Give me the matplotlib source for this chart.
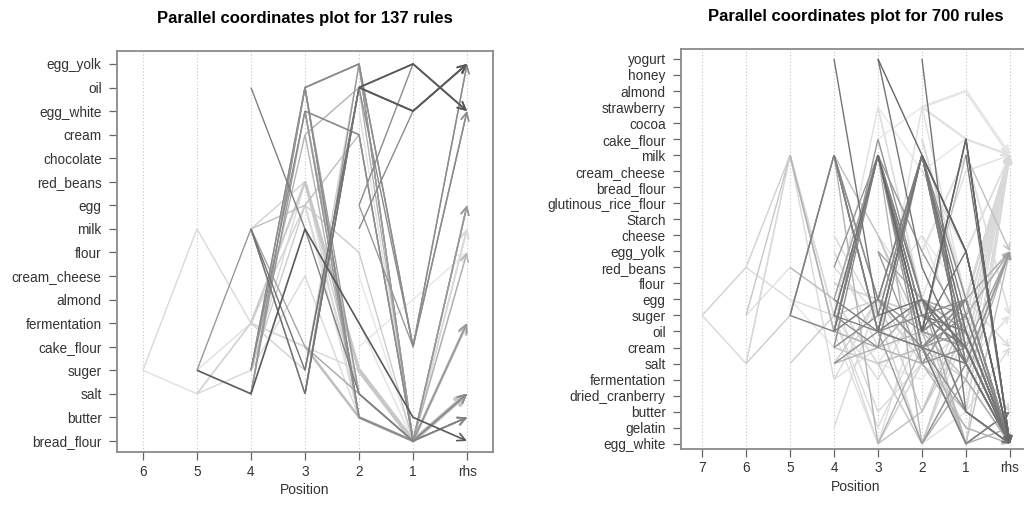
import matplotlib
matplotlib.use("Agg")
import matplotlib.pyplot as plt

plt.rcParams["font.family"] = ["Liberation Sans", "DejaVu Sans"]

# ---------------- left panel: 137 rules ----------------
items_137 = ["bread_flour", "butter", "salt", "suger", "cake_flour", "fermentation",
             "almond", "cream_cheese", "flour", "milk", "egg", "red_beans",
             "chocolate", "cream", "egg_white", "oil", "egg_yolk"]
pos_labels_137 = ["6", "5", "4", "3", "2", "1", "rhs"]

# each rule: lhs items from the highest position down to position 1, then the rhs item
rules_137 = [
    ["suger", "milk", "fermentation", "cake_flour", "butter", "bread_flour", "salt"],
    ["suger", "salt", "fermentation", "egg", "butter", "bread_flour", "milk"],
    ["suger", "salt", "milk", "fermentation", "butter", "bread_flour"],
    ["suger", "milk", "salt", "oil", "egg_white", "egg_yolk"],
    ["salt", "fermentation", "suger", "egg_yolk", "cake_flour", "egg_white"],
    ["suger", "fermentation", "cake_flour", "butter", "bread_flour", "egg"],
    ["salt", "suger", "cream_cheese", "butter", "bread_flour", "fermentation"],
    ["oil", "milk", "salt", "bread_flour", "butter"],
    ["suger", "oil", "egg_yolk", "cake_flour", "egg_white"],
    ["suger", "egg_white", "cream", "bread_flour", "salt"],
    ["salt", "oil", "butter", "bread_flour", "egg"],
    ["milk", "suger", "oil", "egg_yolk", "egg_white"],
    ["milk", "salt", "oil", "egg_white", "egg_yolk"],
    ["milk", "cake_flour", "salt", "bread_flour", "butter"],
    ["suger", "egg", "flour", "bread_flour", "fermentation"],
    ["fermentation", "red_beans", "suger", "bread_flour", "salt"],
    ["fermentation", "cake_flour", "suger", "bread_flour", "milk"],
    ["suger", "cream", "butter", "bread_flour", "flour"],
    ["salt", "egg_white", "butter", "bread_flour", "egg"],
    ["oil", "egg_yolk", "cake_flour", "egg_white"],
    ["oil", "egg_yolk", "bread_flour", "salt"],
    ["egg_white", "cream", "bread_flour", "fermentation"],
    ["oil", "butter", "bread_flour", "salt"],
    ["suger", "oil", "cake_flour", "egg_yolk"],
    ["salt", "egg_yolk", "bread_flour", "butter"],
    ["red_beans", "suger", "bread_flour", "salt"],
    ["egg", "salt", "bread_flour", "milk"],
    ["cake_flour", "butter", "bread_flour", "salt"],
    ["cream", "oil", "bread_flour", "butter"],
    ["egg", "egg_yolk", "egg_white"],
    ["milk", "egg_white", "egg_yolk"],
    ["oil", "egg_yolk", "egg_white"],
    ["oil", "egg_white", "egg_yolk"],
    ["suger", "bread_flour", "salt"],
    ["butter", "bread_flour", "fermentation"],
    ["salt", "bread_flour", "butter"],
    ["fermentation", "bread_flour", "egg"],
    ["egg_white", "bread_flour", "milk"],
    ["cake_flour", "almond", "flour"],
    ["cream_cheese", "bread_flour", "egg"],
    ["egg", "cake_flour", "egg_yolk"],
    ["bread_flour", "milk"],
    ["suger", "oil", "butter", "bread_flour", "fermentation"],
    ["salt", "oil", "egg_yolk", "bread_flour", "butter"],
    ["milk", "egg", "cream", "bread_flour", "salt"],
    ["fermentation", "egg", "salt", "bread_flour", "butter"],
    ["suger", "red_beans", "butter", "bread_flour", "egg"],
    ["oil", "salt", "bread_flour", "butter"],
    ["egg_white", "butter", "bread_flour", "salt"],
    ["salt", "oil", "egg_white", "egg_yolk"],
    ["milk", "red_beans", "salt", "bread_flour", "flour"],
    ["egg_white", "salt", "bread_flour", "egg"],
]
shade_137 = [0.85, 0.88, 0.35, 0.6, 0.82, 0.88, 0.85, 0.5, 0.55, 0.55,
             0.6, 0.45, 0.45, 0.65, 0.8, 0.8, 0.85, 0.7, 0.6, 0.6,
             0.6, 0.6, 0.55, 0.55, 0.6, 0.78, 0.88, 0.75, 0.7, 0.55,
             0.55, 0.35, 0.35, 0.78, 0.78, 0.85, 0.9, 0.88, 0.9, 0.9,
             0.6, 0.9, 0.6, 0.6, 0.75, 0.85, 0.85, 0.6, 0.6, 0.5,
             0.82, 0.7]
width_137 = [1.0, 1.0, 1.2, 1.0, 1.0, 1.0, 1.0, 1.0, 1.0, 1.0,
             1.0, 1.0, 1.0, 1.0, 1.0, 1.6, 1.0, 1.0, 1.0, 1.0,
             1.0, 1.0, 1.0, 1.0, 1.0, 2.2, 1.0, 1.8, 1.0, 1.0,
             1.0, 1.3, 1.3, 3.0, 2.0, 1.4, 1.2, 1.0, 1.0, 1.0,
             1.0, 1.2, 1.0, 1.0, 1.0, 1.0, 1.0, 1.0, 1.0, 1.0,
             1.0, 1.0]

# ---------------- right panel: 700 rules ----------------
items_700 = ["egg_white", "gelatin", "butter", "dried_cranberry", "fermentation", "salt",
             "cream", "oil", "suger", "egg", "flour", "red_beans", "egg_yolk", "cheese",
             "Starch", "glutinous_rice_flour", "bread_flour", "cream_cheese", "milk",
             "cake_flour", "cocoa", "strawberry", "almond", "honey", "yogurt"]
pos_labels_700 = ["7", "6", "5", "4", "3", "2", "1", "rhs"]

rules_700 = [
    ["suger", "red_beans", "milk", "oil", "egg", "salt", "butter", "egg_white"],
    ["suger", "salt", "milk", "fermentation", "egg", "cream", "gelatin", "egg_white"],
    ["suger", "milk", "oil", "cream", "salt", "butter", "egg_white"],
    ["red_beans", "egg", "suger", "gelatin", "oil", "fermentation", "egg_white"],
    ["salt", "suger", "milk", "oil", "cream", "fermentation", "egg_white"],
    ["salt", "milk", "suger", "fermentation", "egg", "butter", "cream"],
    ["suger", "red_beans", "egg", "salt", "egg_white", "butter", "milk"],
    ["milk", "oil", "cream", "salt", "gelatin", "egg_white"],
    ["suger", "milk", "oil", "egg", "salt", "egg_white"],
    ["suger", "oil", "milk", "cream", "egg_white", "butter"],
    ["salt", "suger", "egg", "butter", "oil", "egg_white"],
    ["red_beans", "egg", "milk", "oil", "cake_flour", "egg_white"],
    ["milk", "suger", "egg_white", "salt", "egg", "cream"],
    ["suger", "milk", "egg", "cream", "butter", "egg_white"],
    ["egg", "cream", "salt", "fermentation", "suger", "milk"],
    ["yogurt", "suger", "egg", "cream", "egg_white"],
    ["milk", "oil", "cream", "salt", "egg_white"],
    ["oil", "milk", "egg", "butter", "egg_white"],
    ["suger", "milk", "oil", "egg_yolk", "egg_white"],
    ["gelatin", "egg", "salt", "butter", "milk"],
    ["fermentation", "cream", "egg", "suger", "milk"],
    ["egg_yolk", "cream", "egg", "salt", "milk"],
    ["milk", "egg_white", "cream", "egg", "egg_yolk"],
    ["red_beans", "suger", "egg_white", "oil", "milk"],
    ["oil", "cake_flour", "egg", "salt", "egg_white"],
    ["suger", "strawberry", "egg", "cream", "milk"],
    ["milk", "cheese", "oil", "fermentation", "egg_white"],
    ["oil", "milk", "suger", "cream", "egg_white"],
    ["milk", "oil", "egg_white", "salt", "egg_yolk"],
    ["cream", "suger", "milk", "egg_yolk", "egg_white"],
    ["salt", "egg", "suger", "egg_white", "butter"],
    ["yogurt", "milk", "egg_yolk", "egg_white"],
    ["yogurt", "red_beans", "salt", "egg_white"],
    ["milk", "oil", "cake_flour", "egg_white"],
    ["oil", "milk", "egg_yolk", "egg_white"],
    ["strawberry", "cream_cheese", "cake_flour", "milk"],
    ["strawberry", "egg", "suger", "milk"],
    ["egg_white", "salt", "oil", "milk"],
    ["cheese", "egg", "butter", "milk"],
    ["milk", "egg_white", "salt", "egg_yolk"],
    ["cake_flour", "strawberry", "almond", "milk"],
    ["egg", "cheese", "cream", "milk"],
    ["milk", "suger", "oil", "egg_white"],
    ["oil", "cream", "egg", "egg_white"],
    ["salt", "egg", "cream_cheese", "milk"],
    ["egg_white", "butter", "suger", "egg_yolk"],
    ["cream", "oil", "egg_white", "butter"],
    ["egg_yolk", "salt", "cream", "egg_white"],
    ["suger", "egg_white", "fermentation", "milk"],
    ["milk", "cream", "egg_white", "gelatin"],
    ["yogurt", "butter", "egg_white"],
    ["milk", "egg_yolk", "egg_white"],
    ["oil", "cake_flour", "egg_white"],
    ["strawberry", "almond", "milk"],
    ["strawberry", "cake_flour", "milk"],
    ["egg_white", "suger", "milk"],
    ["egg_white", "fermentation", "egg_yolk"],
    ["milk", "salt", "egg_yolk"],
    ["cream", "egg", "milk"],
    ["milk", "cream", "egg_white"],
    ["cream_cheese", "egg_yolk", "milk"],
    ["egg", "egg_white", "butter"],
    ["suger", "cream", "egg_white"],
    ["salt", "egg", "egg_yolk"],
    ["egg_yolk", "milk", "suger"],
    ["cake_flour", "egg", "milk"],
    ["milk", "oil", "egg_white"],
    ["almond", "milk"],
    ["cake_flour", "egg_white"],
    ["suger", "egg_yolk"],
    ["egg_yolk", "egg_white"],
    ["egg", "milk"],
    ["fermentation", "egg_white"],
    ["cream", "butter"],
    ["salt", "suger"],
    ["oil", "milk", "cream", "salt", "egg_white"],
    ["milk", "oil", "suger", "egg", "egg_white"],
    ["suger", "milk", "egg_yolk", "oil", "egg_white"],
    ["egg", "milk", "oil", "cream", "egg_yolk"],
    ["suger", "oil", "milk", "salt", "egg_white"],
    ["salt", "oil", "milk", "egg", "egg_white"],
    ["red_beans", "milk", "oil", "cream", "egg_white"],
    ["cream", "milk", "suger", "oil", "egg_white"],
    ["milk", "egg", "cream", "oil", "egg_white"],
    ["oil", "egg", "milk", "cream", "egg_white"],
    ["egg", "oil", "milk", "suger", "egg_white"],
    ["suger", "cream", "milk", "oil", "egg_white"],
    ["cheese", "suger", "cream", "egg", "milk"],
    ["egg", "salt", "cream", "suger", "milk"],
    ["flour", "egg", "suger", "cream", "egg_yolk"],
    ["salt", "cream", "egg", "butter", "egg_white"],
    ["egg", "butter", "salt", "cream", "milk"],
    ["cream", "salt", "egg_white", "suger", "egg_yolk"],
    ["oil", "egg_white", "egg", "cream", "milk"],
    ["milk", "egg", "oil", "egg_white"],
    ["egg", "milk", "cream", "egg_white"],
    ["suger", "milk", "salt", "egg_white"],
    ["cream", "strawberry", "egg", "milk"],
    ["cake_flour", "egg", "butter", "milk"],
    ["suger", "egg", "egg_white", "milk"],
    ["salt", "cream", "egg_white", "egg_yolk"],
    ["cheese", "cream", "suger", "milk"],
    ["oil", "egg", "salt", "egg_yolk"],
    ["egg_yolk", "egg", "suger", "egg_white"],
    ["egg", "oil", "cream", "egg_white"],
    ["milk", "salt", "egg", "egg_white"],
    ["oil", "milk", "egg_yolk"],
    ["egg", "salt", "egg_white"],
    ["cream", "suger", "egg_white"],
    ["salt", "cream", "milk"],
    ["suger", "egg", "milk"],
    ["egg", "cream", "egg_white"],
    ["butter", "egg", "milk"],
    ["oil", "egg", "egg_white"],
    ["cheese", "egg", "milk"],
    ["egg_white", "milk"],
    ["oil", "egg_white"],
    ["butter", "egg_white"],
    ["milk", "egg_white"],
    ["cream", "egg_white"],
]
shade_700 = [0.82, 0.85, 0.78, 0.86, 0.8, 0.85, 0.88, 0.7, 0.5, 0.5,
             0.8, 0.75, 0.85, 0.55, 0.9, 0.45, 0.5, 0.5, 0.45, 0.85,
             0.88, 0.85, 0.7, 0.85, 0.6, 0.88, 0.75, 0.5, 0.6, 0.55,
             0.8, 0.4, 0.45, 0.4, 0.45, 0.9, 0.88, 0.85, 0.88, 0.7,
             0.9, 0.88, 0.5, 0.55, 0.88, 0.75, 0.7, 0.6, 0.85, 0.65,
             0.45, 0.4, 0.4, 0.9, 0.88, 0.85, 0.7, 0.65, 0.85, 0.55,
             0.88, 0.7, 0.55, 0.75, 0.88, 0.85, 0.45, 0.9, 0.45, 0.7,
             0.45, 0.88, 0.7, 0.85, 0.88,
             0.55, 0.55, 0.6, 0.65, 0.5, 0.55, 0.6, 0.55, 0.6, 0.5,
             0.5, 0.55, 0.85, 0.85, 0.8, 0.7, 0.85, 0.8, 0.88, 0.6,
             0.5, 0.55, 0.88, 0.88, 0.85, 0.75, 0.88, 0.7, 0.65, 0.6,
             0.6, 0.75, 0.6, 0.55, 0.88, 0.88, 0.55, 0.88, 0.55, 0.9,
             0.88, 0.55, 0.6, 0.45, 0.55]
# rules drawn heavier than the default line width (by rule index)
thick_700 = {53: 1.8, 54: 1.5, 55: 1.3, 58: 1.6, 60: 1.4, 64: 1.3, 65: 1.4,
             67: 2.0, 71: 1.8, 73: 1.2, 74: 1.2, 110: 1.6, 111: 1.5, 113: 1.4,
             116: 1.5}


def draw_panel(ax, items, labels, rules, shades, widths, title, head):
    npos = len(labels) - 1
    ypos = {name: i for i, name in enumerate(items)}
    for x in range(len(labels)):
        ax.axvline(x, color="#c4c4c4", lw=0.8, ls=(0, (1, 2)), zorder=0)
    order = sorted(range(len(rules)), key=lambda k: -shades[k])
    for z, k in enumerate(order):
        rule, g, w = rules[k], shades[k], widths[k]
        n_lhs = len(rule) - 1
        xs = [npos - (n_lhs - j) for j in range(n_lhs)] + [npos]
        ys = [ypos[name] for name in rule]
        col = (g, g, g)
        ax.plot(xs[:-1], ys[:-1], color=col, lw=w, zorder=2 + z * 0.01,
                solid_joinstyle="miter", solid_capstyle="butt")
        ax.annotate("", xy=(xs[-1], ys[-1]), xytext=(xs[-2], ys[-2]),
                    arrowprops=dict(arrowstyle="->", color=col, lw=w,
                                    shrinkA=0, shrinkB=0, mutation_scale=head),
                    zorder=2 + z * 0.01)
    ax.set_xlim(-0.48, npos + 0.48)
    ax.set_xticks(range(len(labels)))
    ax.set_xticklabels(labels)
    ax.set_yticks(range(len(items)))
    ax.set_yticklabels(items)
    ax.set_xlabel("Position", fontsize=10, color="#333333", labelpad=3)
    ax.set_title(title, fontsize=12, fontweight="bold", pad=20)
    ax.tick_params(axis="both", direction="out", length=6, width=0.9,
                   color="#666666", labelcolor="#333333", labelsize=9.8, pad=5)
    ax.tick_params(axis="x", pad=3)
    for sp in ax.spines.values():
        sp.set_color("#8a8a8a")
        sp.set_linewidth(1.3)


fig = plt.figure(figsize=(10.24, 5.09), dpi=100)
ax1 = fig.add_axes([117 / 1024, 57 / 509, 376 / 1024, 401 / 509])
ax2 = fig.add_axes([681 / 1024, 60 / 509, 350 / 1024, 400 / 509])

draw_panel(ax1, items_137, pos_labels_137, rules_137, shade_137, width_137,
           "Parallel coordinates plot for 137 rules", 14)
ax1.set_ylim(-0.47, 16.55)

width_700 = [thick_700.get(k, 1.0) for k in range(len(rules_700))]
draw_panel(ax2, items_700, pos_labels_700, rules_700, shade_700, width_700,
           "Parallel coordinates plot for 700 rules", 11)
ax2.set_ylim(-0.33, 24.62)

fig.savefig("out.png", dpi=100)
